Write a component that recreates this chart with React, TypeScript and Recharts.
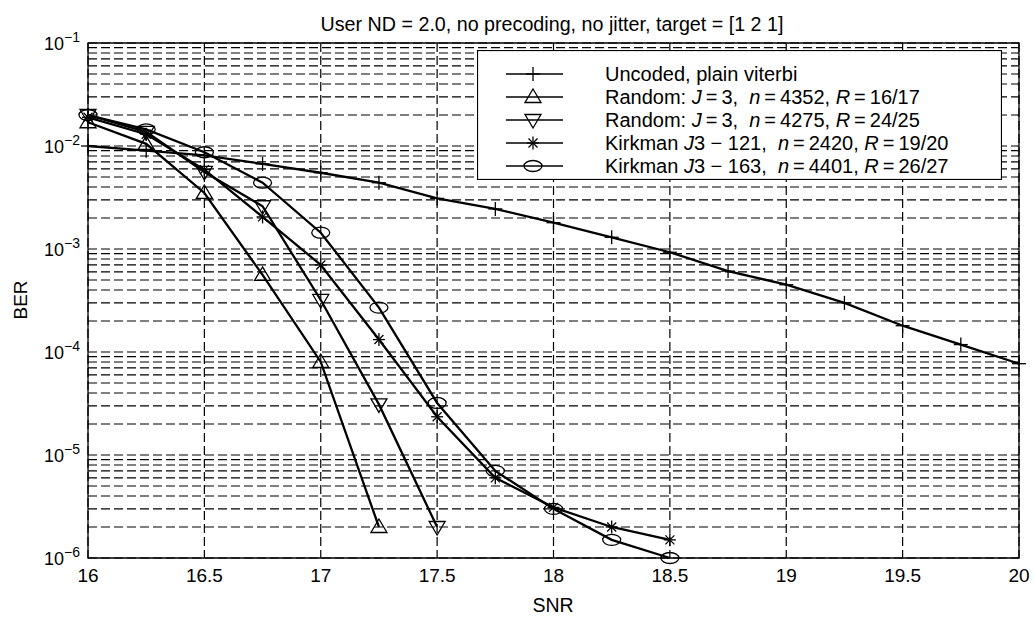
import React from 'react'
import {
  LineChart,
  Line,
  XAxis,
  YAxis,
  CartesianGrid,
  ReferenceArea,
  Legend,
  Customized,
} from 'recharts'

const FONT = '"Liberation Sans", Arial, Helvetica, sans-serif'

// x axis: SNR
const SNR_TICKS = [16, 16.5, 17, 17.5, 18, 18.5, 19, 19.5, 20]

// y axis: BER, log scale, decades and the minor lines between them
const DECADES = [-6, -5, -4, -3, -2]
const MANTISSAS = [1, 2, 3, 4, 5, 6, 7, 8, 9]
const TOP_DECADE = 1e-1
const BER_TICKS = [
  ...DECADES.flatMap((d) => MANTISSAS.map((m) => m * Math.pow(10, d))),
  TOP_DECADE,
]

// Uncoded, plain viterbi
const SNR_UNCODED = [16, 16.25, 16.5, 16.75, 17, 17.25, 17.5, 17.75, 18, 18.25, 18.5, 18.75, 19, 19.25, 19.5, 19.75, 20]
const BER_UNCODED = [1.0e-2, 9.0e-3, 8.1e-3, 6.7e-3, 5.5e-3, 4.4e-3, 3.1e-3, 2.45e-3, 1.8e-3, 1.3e-3, 9.3e-4, 6.1e-4, 4.5e-4, 3.0e-4, 1.8e-4, 1.18e-4, 7.7e-5]

// Random: J = 3, n = 4352, R = 16/17
const SNR_R4352 = [16, 16.25, 16.5, 16.75, 17, 17.25]
const BER_R4352 = [1.7e-2, 1.05e-2, 3.5e-3, 5.6e-4, 8.0e-5, 2.0e-6]

// Random: J = 3, n = 4275, R = 24/25
const SNR_R4275 = [16, 16.25, 16.5, 16.75, 17, 17.25, 17.5]
const BER_R4275 = [2.0e-2, 1.37e-2, 5.6e-3, 2.6e-3, 3.2e-4, 3.1e-5, 2.0e-6]

// Kirkman J3 - 121, n = 2420, R = 19/20
const SNR_K121 = [16, 16.25, 16.5, 16.75, 17, 17.25, 17.5, 17.75, 18, 18.25, 18.5]
const BER_K121 = [1.9e-2, 1.3e-2, 5.9e-3, 2.05e-3, 7.0e-4, 1.32e-4, 2.35e-5, 6.0e-6, 3.1e-6, 2.0e-6, 1.5e-6]

// Kirkman J3 - 163, n = 4401, R = 26/27
const SNR_K163 = [16, 16.25, 16.5, 16.75, 17, 17.25, 17.5, 17.75, 18, 18.25, 18.5]
const BER_K163 = [2.0e-2, 1.45e-2, 8.7e-3, 4.4e-3, 1.44e-3, 2.7e-4, 3.2e-5, 7.0e-6, 3.0e-6, 1.5e-6, 1.0e-6]

type MarkerKind = 'plus' | 'triUp' | 'triDown' | 'star' | 'ellipse'
type Seg = [string, boolean?]

const toPoints = (xs: number[], ys: number[]) => xs.map((x, i) => ({ x, y: ys[i] }))

const SERIES: { key: string; marker: MarkerKind; label: Seg[]; data: { x: number; y: number }[] }[] = [
  {
    key: 'uncoded',
    marker: 'plus',
    label: [['Uncoded, plain viterbi']],
    data: toPoints(SNR_UNCODED, BER_UNCODED),
  },
  {
    key: 'r4352',
    marker: 'triUp',
    label: [['Random: '], ['J', true], ['\u2009=\u20093,\u00a0\u00a0'], ['n', true], ['\u2009=\u20094352, '], ['R', true], ['\u2009=\u200916/17']],
    data: toPoints(SNR_R4352, BER_R4352),
  },
  {
    key: 'r4275',
    marker: 'triDown',
    label: [['Random: '], ['J', true], ['\u2009=\u20093,\u00a0\u00a0'], ['n', true], ['\u2009=\u20094275, '], ['R', true], ['\u2009=\u200924/25']],
    data: toPoints(SNR_R4275, BER_R4275),
  },
  {
    key: 'k121',
    marker: 'star',
    label: [['Kirkman '], ['J', true], ['3 \u2212 121,\u00a0\u00a0'], ['n', true], ['\u2009=\u20092420, '], ['R', true], ['\u2009=\u200919/20']],
    data: toPoints(SNR_K121, BER_K121),
  },
  {
    key: 'k163',
    marker: 'ellipse',
    label: [['Kirkman '], ['J', true], ['3 \u2212 163,\u00a0\u00a0'], ['n', true], ['\u2009=\u20094401, '], ['R', true], ['\u2009=\u200926/27']],
    data: toPoints(SNR_K163, BER_K163),
  },
]

function Marker({ kind, cx, cy }: { kind: MarkerKind; cx: number; cy: number }) {
  const s = { stroke: '#000', strokeWidth: 1.3, fill: 'none' }
  if (kind === 'plus') {
    return (
      <g {...s}>
        <line x1={cx - 7} y1={cy} x2={cx + 7} y2={cy} />
        <line x1={cx} y1={cy - 7} x2={cx} y2={cy + 7} />
      </g>
    )
  }
  if (kind === 'triUp') {
    return <polygon {...s} points={`${cx},${cy - 8} ${cx + 8},${cy + 5.5} ${cx - 8},${cy + 5.5}`} />
  }
  if (kind === 'triDown') {
    return <polygon {...s} points={`${cx},${cy + 8} ${cx + 8},${cy - 5.5} ${cx - 8},${cy - 5.5}`} />
  }
  if (kind === 'star') {
    return (
      <g {...s}>
        <line x1={cx - 6} y1={cy} x2={cx + 6} y2={cy} />
        <line x1={cx} y1={cy - 6.5} x2={cx} y2={cy + 6.5} />
        <line x1={cx - 4.5} y1={cy - 4.5} x2={cx + 4.5} y2={cy + 4.5} />
        <line x1={cx - 4.5} y1={cy + 4.5} x2={cx + 4.5} y2={cy - 4.5} />
      </g>
    )
  }
  return <ellipse {...s} cx={cx} cy={cy} rx={9} ry={5.5} />
}

function BerTick({ x, y, payload }: any) {
  const lg = Math.log10(payload.value)
  const e = Math.round(lg)
  if (Math.abs(lg - e) > 1e-6) return <g />
  return (
    <text x={x} y={y + 6.5} textAnchor="end" fontFamily={FONT} fontSize={18} fill="#000">
      10
      <tspan dy={-8} fontSize={14}>
        {'\u2212' + Math.abs(e)}
      </tspan>
    </text>
  )
}

function SnrTick({ x, y, payload }: any) {
  return (
    <text x={x} y={y + 24} textAnchor="middle" fontFamily={FONT} fontSize={19} fill="#000">
      {payload.value}
    </text>
  )
}

function LegendBox() {
  const w = 525
  const h = 130
  return (
    <svg width={w} height={h} style={{ display: 'block' }}>
      <rect x={0.5} y={0.5} width={w - 1} height={h - 1} fill="#fff" stroke="#000" strokeWidth={1.2} />
      {SERIES.map((s, i) => {
        const cy = 24 + i * 23
        return (
          <g key={s.key}>
            <line x1={29} y1={cy} x2={86} y2={cy} stroke="#000" strokeWidth={1.3} />
            <Marker kind={s.marker} cx={56} cy={cy} />
            <text x={128} y={cy + 7} fontFamily={FONT} fontSize={20} fill="#000">
              {s.label.map(([t, it], j) => (
                <tspan key={j} fontStyle={it ? 'italic' : 'normal'}>
                  {t}
                </tspan>
              ))}
            </text>
          </g>
        )
      })}
    </svg>
  )
}

function Titles() {
  return (
    <g fontFamily={FONT} fill="#000">
      <text x={552} y={31} textAnchor="middle" fontSize={19.7}>
        User ND = 2.0, no precoding, no jitter, target = [1 2 1]
      </text>
      <text x={553} y={612} textAnchor="middle" fontSize={19.5}>
        SNR
      </text>
      <text x={27} y={300} textAnchor="middle" fontSize={19} transform="rotate(-90 27 300)">
        BER
      </text>
    </g>
  )
}

export default function App() {
  return (
    <div style={{ position: 'absolute', left: 0, top: 0, background: '#fff' }}>
      <LineChart width={1034} height={617} margin={{ top: 43, right: 15, bottom: 0, left: 0 }}>
        <CartesianGrid stroke="#000" strokeDasharray="9 4" strokeWidth={1.2} />
        <XAxis
          type="number"
          dataKey="x"
          domain={[16, 20]}
          ticks={SNR_TICKS}
          height={59}
          axisLine={false}
          tickLine={false}
          tickSize={0}
          tickMargin={0}
          tick={<SnrTick />}
          interval={0}
        />
        <YAxis
          type="number"
          scale="log"
          domain={[1e-6, 1e-1]}
          ticks={BER_TICKS}
          width={88}
          axisLine={false}
          tickLine={false}
          tickSize={0}
          tickMargin={8}
          tick={<BerTick />}
          interval={0}
        />
        <ReferenceArea x1={16} x2={20} y1={1e-6} y2={1e-1} fill="none" stroke="#000" strokeWidth={1.3} fillOpacity={0} />
        {SERIES.map((s) => (
          <Line
            key={s.key}
            data={s.data}
            dataKey="y"
            type="linear"
            stroke="#000"
            strokeWidth={2.3}
            isAnimationActive={false}
            dot={(p: any) => <Marker key={`${s.key}-${p.index}`} kind={s.marker} cx={p.cx} cy={p.cy} />}
            activeDot={false}
          />
        ))}
        <Legend
          layout="vertical"
          align="center"
          verticalAlign="middle"
          content={() => <LegendBox />}
          wrapperStyle={{ left: 477, top: 50, width: 525, height: 130 }}
        />
        <Customized component={<Titles />} />
      </LineChart>
    </div>
  )
}
